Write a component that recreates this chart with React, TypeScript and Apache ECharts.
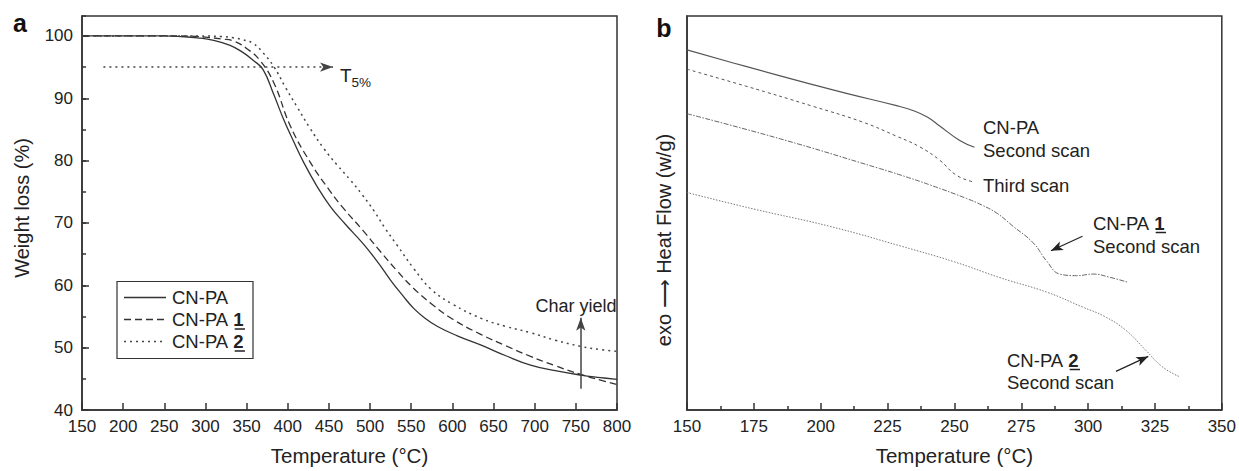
import React, { useEffect, useRef } from "react";
import * as echarts from "echarts";

const FONT = '"Liberation Sans", Arial, Helvetica, sans-serif';

// ---- Panel a: TGA (Temperature °C, Weight %) ----
const tgaCNPA: [number, number][] = [
  [150, 100], [250, 100], [270, 99.9], [290, 99.7], [310, 99.3], [330, 98.5], [345, 97.4],
  [358, 96.1], [370, 94.6], [383, 90.6], [395, 86.6], [407, 83.1], [419, 79.8], [435, 76.0],
  [452, 72.6], [470, 69.8], [492, 66.6], [510, 63.6], [525, 60.8], [540, 58.3], [553, 56.3],
  [566, 54.8], [582, 53.4], [606, 51.9], [635, 50.4], [665, 48.7], [695, 47.2], [725, 46.3],
  [756, 45.6], [780, 45.2], [800, 44.9],
];
const tgaCNPA1: [number, number][] = [
  [150, 100], [270, 100], [300, 99.8], [320, 99.5], [334, 99.2], [350, 98.0], [366, 96.1],
  [383, 92.5], [403, 85.6], [427, 79.8], [452, 75.0], [468, 72.3], [492, 68.7], [512, 65.5],
  [533, 62.3], [553, 59.5], [574, 57.1], [600, 54.6], [635, 52.1], [665, 50.3], [695, 48.6],
  [725, 47.1], [756, 45.7], [780, 44.8], [800, 44.1],
];
const tgaCNPA2: [number, number][] = [
  [150, 100], [290, 100], [320, 99.9], [334, 99.7], [345, 99.4], [358, 98.8], [370, 97.3],
  [383, 95.1], [397, 91.8], [411, 88.7], [427, 85.2], [444, 81.9], [460, 79.3], [476, 76.9],
  [490, 74.6], [505, 71.9], [518, 69.2], [533, 66.4], [553, 62.7], [574, 59.4], [600, 57.0],
  [635, 54.7], [665, 53.4], [695, 52.4], [725, 51.2], [756, 50.2], [780, 49.7], [800, 49.4],
];
const tgaNames = ["CN-PA", "CN-PA 1", "CN-PA 2"];

// ---- Panel b: DSC (Temperature °C, heat flow, arbitrary units) ----
const dscCNPA2nd: [number, number][] = [
  [150, 91.4], [172, 87.2], [197, 82.6], [210, 80.3], [228, 77.3], [235, 75.9], [240, 74.3],
  [244.5, 72.1], [252, 68.4], [257.5, 66.7],
];
const dscCNPA3rd: [number, number][] = [
  [150, 86.5], [172, 82.2], [197, 77.1], [216, 73.0], [228, 69.6], [237, 66.8], [244.5, 63.4],
  [250.7, 59.6], [257.5, 57.8],
];
const dscCNPA1: [number, number][] = [
  [150, 75.2], [185, 68.8], [222, 61.3], [230, 59.6], [241, 57.1], [254.5, 53.7], [260, 52.1],
  [266, 49.9], [272, 46.6], [279.5, 42.4], [284.5, 37.8], [289.4, 34.5], [295.7, 34.1],
  [302, 34.5], [308, 33.7], [315, 32.4],
];
const dscCNPA2: [number, number][] = [
  [150, 55.2], [175, 51.0], [203.5, 46.6], [230, 41.6], [250, 37.6], [267, 33.6], [285, 29.8],
  [298, 26.1], [306, 23.8], [314, 20.3], [321.5, 15.2], [327.7, 11.0], [334, 8.5],
];

const t5Line: [number, number][] = [[176, 95], [455, 95]];
const charYieldArrow: [number, number][] = [[756, 43.4], [756, 54.8]];
const arrowPA1: [number, number][] = [[297.9, 44.1], [286.1, 40.4]];
const arrowPA2: [number, number][] = [[310.4, 9.8], [322.5, 13.6]];

const AX = "#333";

function baseAxis(extra: any) {
  return {
    type: "value",
    splitLine: { show: false },
    axisLine: { show: true, lineStyle: { color: AX, width: 1.5 } },
    axisTick: { show: true, inside: true, length: 7, lineStyle: { color: AX, width: 1.5 } },
    axisLabel: { fontSize: 17, color: "#222", fontFamily: FONT, margin: 8 },
    ...extra,
  };
}

function txt(x: number, y: number, text: string, size: number, extra: any = {}, styleExtra: any = {}) {
  return {
    type: "text",
    x,
    y,
    z: 100,
    ...extra,
    style: {
      text,
      fontSize: size,
      fontFamily: FONT,
      fill: "#222",
      align: "left",
      verticalAlign: "middle",
      textAlign: "left",
      textVerticalAlign: "middle",
      ...styleExtra,
    },
  };
}

function richLabel(x: number, y: number, base: string, num: string, size: number) {
  return {
    type: "text",
    x,
    y,
    z: 100,
    style: {
      text: `{n|${base}}{b|${num}}`,
      fill: "#222",
      align: "left",
      verticalAlign: "middle",
      textAlign: "left",
      textVerticalAlign: "middle",
      rich: {
        n: { fontSize: size, fontFamily: FONT, fill: "#222" },
        b: { fontSize: size, fontFamily: FONT, fontWeight: "bold", fill: "#222" },
      },
    },
  };
}

function uline(x1: number, x2: number, y: number) {
  return {
    type: "line",
    z: 100,
    shape: { x1, y1: y, x2, y2: y },
    style: { stroke: "#222", lineWidth: 1.5 },
  };
}

const SM = 0.45;

export default function App() {
  const ref = useRef<HTMLDivElement>(null);
  useEffect(() => {
    if (!ref.current) return;
    const chart = echarts.init(ref.current, null, { renderer: "svg" });
    const lsz = 18.5;
    const wCNPAsp = 3.389 * lsz;
    const wOne = 0.556 * lsz;

    const option: any = {
      animation: false,
      backgroundColor: "#fff",
      grid: [
        { left: 82, top: 16, width: 535, height: 398, show: true, borderColor: AX, borderWidth: 1.5, backgroundColor: "transparent" },
        { left: 687, top: 16, width: 536, height: 398, show: true, borderColor: AX, borderWidth: 1.5, backgroundColor: "transparent" },
      ],
      xAxis: [
        baseAxis({
          gridIndex: 0, min: 150, max: 800, interval: 50,
          name: "Temperature (°C)", nameLocation: "middle", nameGap: 35,
          nameTextStyle: { fontSize: 20.5, color: "#222", fontFamily: FONT },
        }),
        baseAxis({
          gridIndex: 1, min: 150, max: 350, interval: 25,
          minorTick: { show: true, splitNumber: 2, length: 4, lineStyle: { color: AX, width: 1.5 } },
          name: "Temperature (°C)", nameLocation: "middle", nameGap: 35,
          nameTextStyle: { fontSize: 20.5, color: "#222", fontFamily: FONT },
        }),
      ],
      yAxis: [
        baseAxis({
          gridIndex: 0, position: "left", min: 40, max: 103.2, interval: 10,
          axisLabel: { fontSize: 17, color: "#222", fontFamily: FONT, margin: 9, showMaxLabel: false },
        }),
        baseAxis({
          gridIndex: 0, position: "left", min: 40, max: 103.2, interval: 5,
          axisLine: { show: false },
          axisLabel: { show: false },
          axisTick: { show: true, inside: true, length: 4, lineStyle: { color: AX, width: 1.5 } },
        }),
        baseAxis({
          gridIndex: 1, position: "left", min: 0, max: 100,
          axisLabel: { show: false },
          axisTick: { show: false },
        }),
      ],
      series: [
        {
          name: tgaNames[0], type: "line", xAxisIndex: 0, yAxisIndex: 0, data: tgaCNPA,
          symbol: "none", smooth: SM,
          lineStyle: { color: "#333", width: 1.3, type: "solid" },
          markLine: {
            silent: true, animation: false,
            label: { show: false },
            data: [
              [
                { coord: t5Line[0], symbol: "none", lineStyle: { color: "#444", width: 1.5, type: [2, 4] } },
                { coord: t5Line[1], symbol: "arrow", symbolSize: [7, 13] },
              ],
              [
                { coord: charYieldArrow[0], symbol: "none", lineStyle: { color: "#444", width: 1.5, type: "solid" } },
                { coord: charYieldArrow[1], symbol: "arrow", symbolSize: [7, 13] },
              ],
            ],
          },
        },
        {
          name: tgaNames[1], type: "line", xAxisIndex: 0, yAxisIndex: 0, data: tgaCNPA1,
          symbol: "none", smooth: SM,
          lineStyle: { color: "#333", width: 1.3, type: [7, 4] },
        },
        {
          name: tgaNames[2], type: "line", xAxisIndex: 0, yAxisIndex: 0, data: tgaCNPA2,
          symbol: "none", smooth: SM,
          lineStyle: { color: "#444", width: 1.5, type: [2, 4] },
        },
        {
          name: "CN-PA second scan", type: "line", xAxisIndex: 1, yAxisIndex: 2, data: dscCNPA2nd,
          symbol: "none", smooth: SM,
          lineStyle: { color: "#555", width: 1.2, type: "solid" },
          markLine: {
            silent: true, animation: false,
            label: { show: false },
            data: [
              [
                { coord: arrowPA1[0], symbol: "none", lineStyle: { color: "#222", width: 1.2, type: "solid" } },
                { coord: arrowPA1[1], symbol: "arrow", symbolSize: [7, 12] },
              ],
              [
                { coord: arrowPA2[0], symbol: "none", lineStyle: { color: "#222", width: 1.2, type: "solid" } },
                { coord: arrowPA2[1], symbol: "arrow", symbolSize: [7, 12] },
              ],
            ],
          },
        },
        {
          name: "CN-PA third scan", type: "line", xAxisIndex: 1, yAxisIndex: 2, data: dscCNPA3rd,
          symbol: "none", smooth: SM,
          lineStyle: { color: "#555", width: 1, type: [3, 3] },
        },
        {
          name: "CN-PA 1 second scan", type: "line", xAxisIndex: 1, yAxisIndex: 2, data: dscCNPA1,
          symbol: "none", smooth: SM,
          lineStyle: { color: "#666", width: 1, type: [5, 1.5, 1.5, 1.5] },
        },
        {
          name: "CN-PA 2 second scan", type: "line", xAxisIndex: 1, yAxisIndex: 2, data: dscCNPA2,
          symbol: "none", smooth: SM,
          lineStyle: { color: "#777", width: 1, type: [1.5, 1.5] },
        },
      ],
      graphic: [
        txt(20, 23, "a", 25, {}, { fontWeight: "bold", align: "center", textAlign: "center", fill: "#111" }),
        txt(664, 28, "b", 25, {}, { fontWeight: "bold", align: "center", textAlign: "center", fill: "#111" }),
        txt(22, 208, "Weight loss (%)", 20, { rotation: Math.PI / 2 }, { align: "center", textAlign: "center" }),
        txt(664, 240, "exo ⟶ Heat Flow (w/g)", 20, { rotation: Math.PI / 2 }, { align: "center", textAlign: "center" }),
        // T5%
        txt(340, 75, "T", 19),
        txt(351.5, 82, "5%", 13.5),
        // Char yield
        txt(576, 306, "Char yield", 18, {}, { align: "center", textAlign: "center" }),
        // Legend (panel a)
        {
          type: "rect", z: 99,
          shape: { x: 117, y: 281.5, width: 136, height: 77 },
          style: { fill: "#fff", stroke: "#333", lineWidth: 1.2 },
        },
        { type: "line", z: 100, shape: { x1: 124, y1: 297.5, x2: 166, y2: 297.5 }, style: { stroke: "#333", lineWidth: 1.3 } },
        { type: "line", z: 100, shape: { x1: 124, y1: 319.5, x2: 166, y2: 319.5 }, style: { stroke: "#333", lineWidth: 1.3, lineDash: [7, 4] } },
        { type: "line", z: 100, shape: { x1: 124, y1: 341.5, x2: 166, y2: 341.5 }, style: { stroke: "#444", lineWidth: 1.5, lineDash: [2, 4] } },
        txt(172, 297.5, tgaNames[0], lsz),
        richLabel(172, 319.5, "CN-PA ", "1", lsz),
        uline(172 + wCNPAsp, 172 + wCNPAsp + wOne, 329),
        richLabel(172, 341.5, "CN-PA ", "2", lsz),
        uline(172 + wCNPAsp, 172 + wCNPAsp + wOne, 351),
        // Panel b annotations
        txt(983, 127, "CN-PA", lsz),
        txt(983, 150, "Second scan", lsz),
        txt(983, 185, "Third scan", lsz),
        richLabel(1093, 223, "CN-PA ", "1", lsz),
        uline(1093 + wCNPAsp, 1093 + wCNPAsp + wOne, 232.5),
        txt(1093, 246, "Second scan", lsz),
        richLabel(1007, 360, "CN-PA ", "2", lsz),
        uline(1007 + wCNPAsp, 1007 + wCNPAsp + wOne, 369.5),
        txt(1007, 382, "Second scan", lsz),
      ],
    };
    chart.setOption(option);
    return () => chart.dispose();
  }, []);
  return (
    <div
      ref={ref}
      style={{ position: "absolute", left: 0, top: 0, width: 1239, height: 471, background: "#fff" }}
    />
  );
}
